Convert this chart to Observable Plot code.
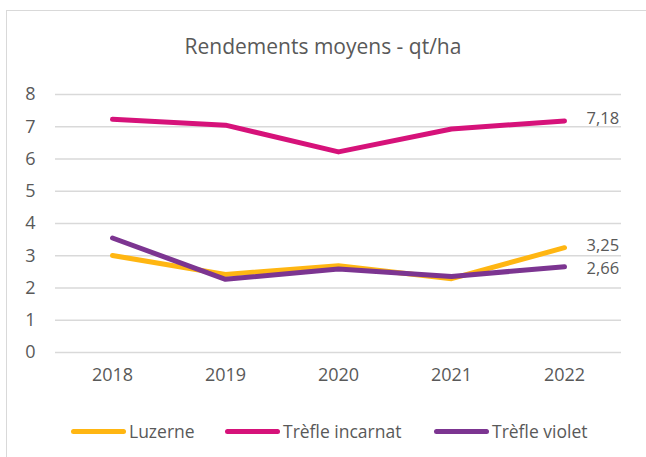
<!DOCTYPE html>
<html>
<head>
<meta charset="utf-8">
<script src="https://cdn.jsdelivr.net/npm/d3@7"></script>
<script src="https://cdn.jsdelivr.net/npm/@observablehq/plot@0.6"></script>
<style>
  html, body { margin: 0; padding: 0; background: #fff; }
  #wrap { position: relative; width: 646px; height: 457px; overflow: hidden; font-family: "Open Sans", sans-serif; color: #595959; }
  #frame { position: absolute; left: 6px; top: 10px; width: 700px; height: 500px; border: 1.5px solid #d9d9d9; box-sizing: border-box; }
  #title { position: absolute; left: 0; width: 646px; top: 32px; text-align: center; font-size: 21px; color: #595959; }
  #chart { position: absolute; left: 0; top: 0; }
  .leg { position: absolute; top: 419px; display: flex; align-items: center; font-size: 17.5px; color: #595959; }
  .sw { width: 55px; height: 5px; border-radius: 3px; margin-right: 3px; }
</style>
</head>
<body>
<div id="wrap">
  <div id="frame"></div>
  <div id="chart"></div>
  <div id="title">Rendements moyens - qt/ha</div>
  <div id="legend"></div>
</div>
<script>
const years = ["2018", "2019", "2020", "2021", "2022"];
const seriesNames = ["Luzerne", "Trèfle incarnat", "Trèfle violet"];
const colors = ["#FFB612", "#D6127A", "#7C3591"];
const luzerne = [3.01, 2.42, 2.69, 2.29, 3.25];
const trefleIncarnat = [7.23, 7.05, 6.22, 6.93, 7.18];
const trefleViolet = [3.55, 2.27, 2.59, 2.36, 2.66];
const endLabels = ["3,25", "7,18", "2,66"];
const yTicks = [0, 1, 2, 3, 4, 5, 6, 7, 8];

const valuesBySeries = [luzerne, trefleIncarnat, trefleViolet];
const data = [];
seriesNames.forEach((s, i) => years.forEach((yr, j) => data.push({series: s, year: yr, value: valuesBySeries[i][j]})));
const last = seriesNames.map((s, i) => ({series: s, year: years[years.length - 1], value: valuesBySeries[i][years.length - 1], label: endLabels[i]}));
const upper = last.filter(d => d.series !== "Trèfle violet");
const lower = last.filter(d => d.series === "Trèfle violet");

const plot = Plot.plot({
  width: 646,
  height: 400,
  marginLeft: 55,
  marginRight: 25,
  marginTop: 94,
  marginBottom: 48,
  style: {fontFamily: "'Open Sans', sans-serif", fontSize: "18px", color: "#595959", background: "transparent"},
  x: {type: "point", domain: years, padding: 0.5, label: null, tickSize: 0, tickPadding: 16},
  y: {domain: [0, 8], ticks: yTicks, label: null, tickSize: 0, tickPadding: 20},
  color: {domain: seriesNames, range: colors},
  marks: [
    Plot.gridY(yTicks, {stroke: "#d9d9d9", strokeOpacity: 1, strokeWidth: 1.5}),
    Plot.axisX({tickSize: 0, tickPadding: 16, fontSize: 18}),
    Plot.axisY(yTicks, {tickSize: 0, tickPadding: 20, fontSize: 18}),
    Plot.line(data, {x: "year", y: "value", z: "series", stroke: "series", strokeWidth: 5, strokeLinecap: "round", strokeLinejoin: "round"}),
    Plot.text(upper, {x: "year", y: "value", text: "label", dx: 22, dy: -2, textAnchor: "start", fill: "#595959", fontSize: 16.5}),
    Plot.text(lower, {x: "year", y: "value", text: "label", dx: 22, dy: 2, textAnchor: "start", fill: "#595959", fontSize: 16.5})
  ]
});
document.getElementById("chart").appendChild(plot);

const legendLefts = [71, 225, 434];
const legend = document.getElementById("legend");
seriesNames.forEach((s, i) => {
  const item = document.createElement("div");
  item.className = "leg";
  item.style.left = legendLefts[i] + "px";
  const sw = document.createElement("div");
  sw.className = "sw";
  sw.style.background = colors[i];
  const t = document.createElement("span");
  t.textContent = s;
  item.appendChild(sw);
  item.appendChild(t);
  legend.appendChild(item);
});
</script>
</body>
</html>
